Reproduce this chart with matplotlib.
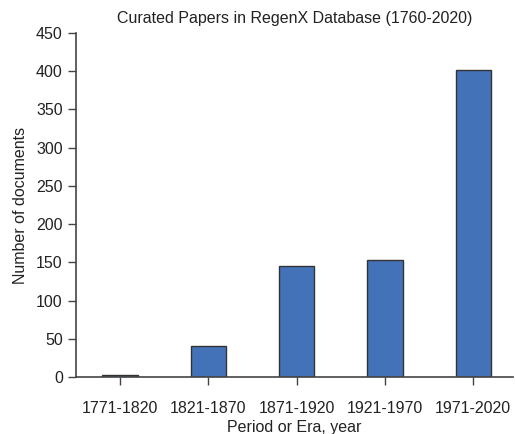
import matplotlib.pyplot as plt

plt.rcParams['font.family'] = ['Liberation Sans', 'DejaVu Sans']

periods = ["1771-1820", "1821-1870", "1871-1920", "1921-1970", "1971-2020"]
counts = [2, 41, 145, 153, 401]
yticks = [0, 50, 100, 150, 200, 250, 300, 350, 400, 450]

fig = plt.figure(figsize=(5.15, 4.34), dpi=100)
ax = fig.add_axes([0.1476, 0.1313, 0.8484, 0.7927])

ax.bar(range(len(periods)), counts, width=0.4, color="#4472b8",
       edgecolor="#333333", linewidth=1.0)

ax.set_xlim(-0.5, 4.45)
ax.set_ylim(0, 450)
ax.set_yticks(yticks)
ax.set_xticks(range(len(periods)))
ax.set_xticklabels(periods)

for side in ["top", "right"]:
    ax.spines[side].set_visible(False)
for side in ["left", "bottom"]:
    ax.spines[side].set_color("#444444")
    ax.spines[side].set_linewidth(1.2)
ax.tick_params(axis="both", direction="out", length=6, width=1.0,
               color="#444444", labelsize=11.5, labelcolor="#222222")
ax.tick_params(axis="x", pad=11)

ax.set_xlabel("Period or Era, year", fontsize=11.5, color="#222222", labelpad=3)
ax.set_ylabel("Number of documents", fontsize=11.5, color="#222222", labelpad=6)
ax.set_title("Curated Papers in RegenX Database (1760-2020)", fontsize=11.5,
             color="#222222", pad=7)

fig.savefig("out.png", dpi=100)
